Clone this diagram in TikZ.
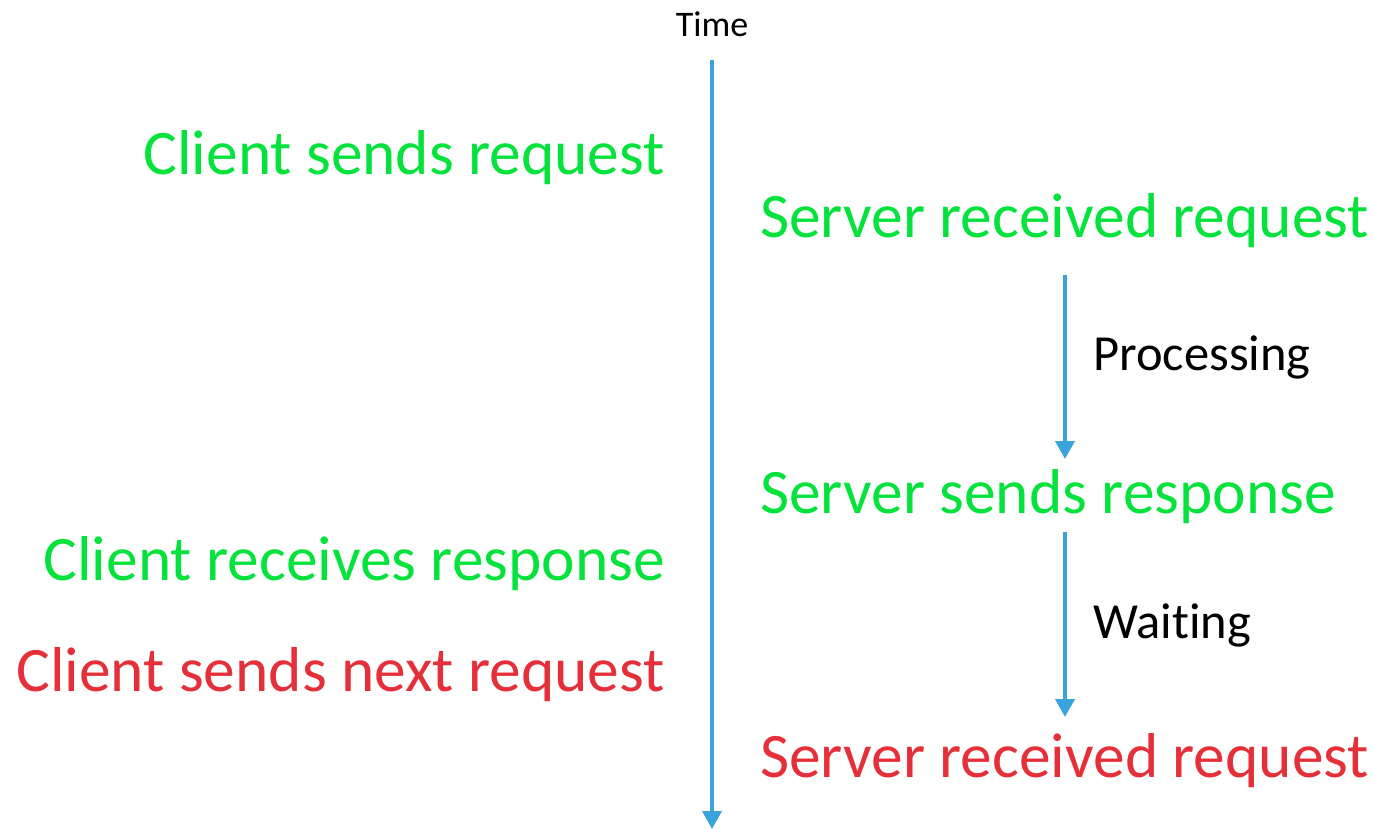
\documentclass[tikz,border=0pt]{standalone}
\usepackage{fontspec}
\setmainfont[Ligatures=NoCommon]{Carlito}
\usetikzlibrary{arrows.meta}
\definecolor{okgreen}{RGB}{4,226,60}
\definecolor{badred}{RGB}{229,48,58}
\definecolor{lineblue}{RGB}{59,163,220}
\tikzset{
  big/.style={inner sep=0pt, font=\fontsize{63.4}{70}\selectfont},
  left/.style={big, anchor=base east},
  right/.style={big, anchor=base west},
  lbl/.style={inner sep=0pt, anchor=base west, font=\fontsize{50.5}{55}\selectfont, text=black},
  tl/.style={line width=3.8pt, draw=lineblue, -{Triangle[width=19pt,length=18pt]}},
}
\begin{document}
\begin{tikzpicture}[x=1pt,y=-1pt]
\useasboundingbox (0,0) rectangle (1374,829);
\node[inner sep=0pt, anchor=base, font=\fontsize{36}{40}\selectfont] (time) at (712,37) {Time};
\coordinate (ts) at (712,60);
\coordinate (te) at (712,829);
\draw[tl] (ts) -- (te);

\node[left, text=okgreen] (c1) at (665,175) {Client sends request};
\node[right, text=okgreen] (s1) at (760,238) {Server received request};
\node[right, text=okgreen] (s2) at (760,513) {Server sends response};
\node[left, text=okgreen] (c2) at (665,580) {Client receives response};
\node[left, text=badred] (c3) at (665,691) {Client sends next request};
\node[right, text=badred] (s3) at (760,777) {Server received request};

\coordinate (p1) at (1065,275);
\coordinate (p2) at (1065,459);
\coordinate (w1) at (1065,532);
\coordinate (w2) at (1065,717);
\draw[tl] (p1) -- (p2);
\draw[tl] (w1) -- (w2);
\node[lbl] (proc) at (1093,370) {Processing};
\node[lbl] (wait) at (1093,638) {Waiting};
\end{tikzpicture}
\end{document}
